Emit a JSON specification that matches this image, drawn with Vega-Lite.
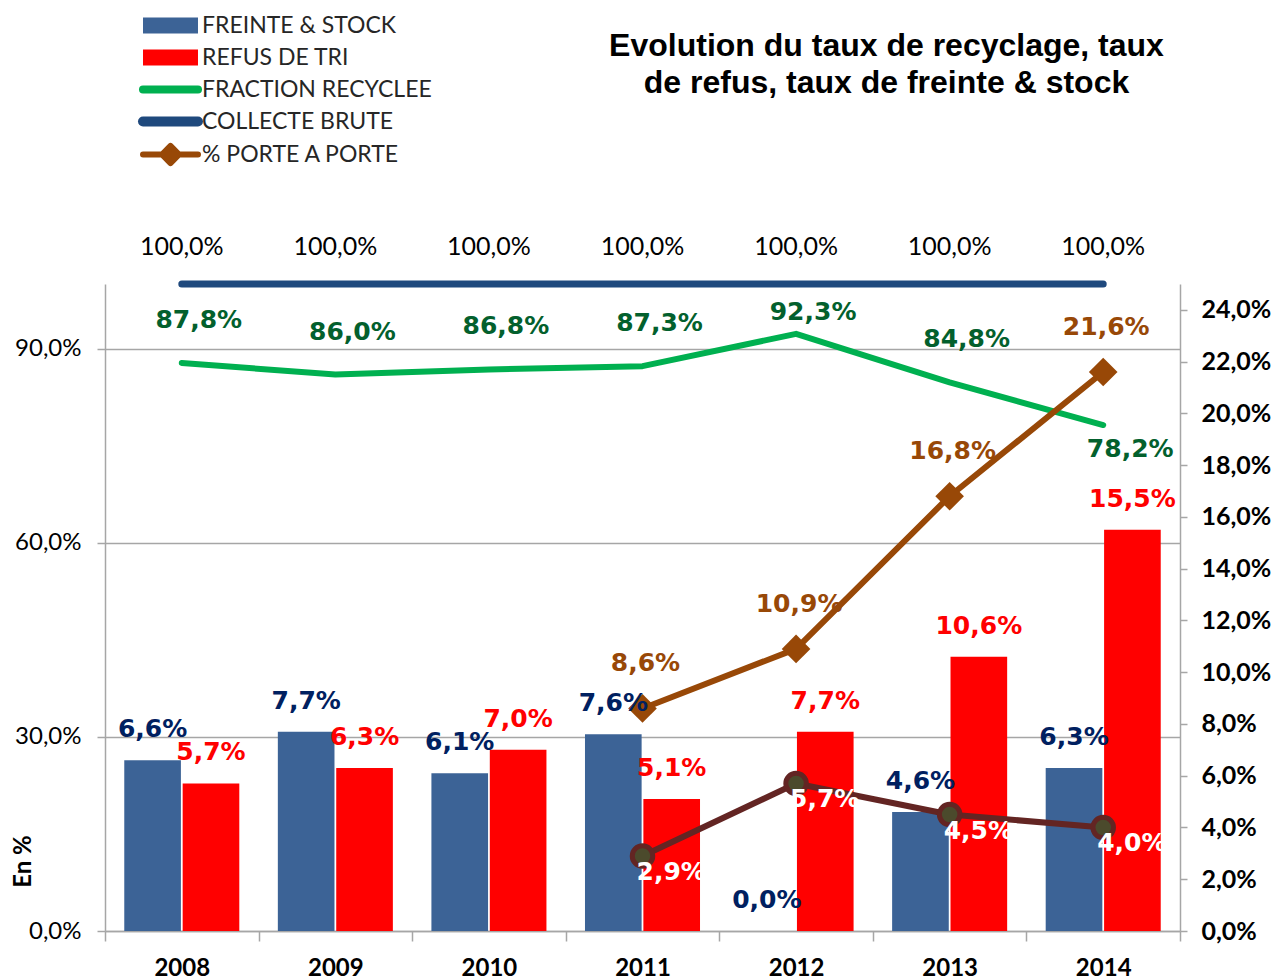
{
  "$schema": "https://vega.github.io/schema/vega-lite/v6.json",
  "width": 1075,
  "height": 647,
  "autosize": {"type": "none"},
  "padding": {"left": 105, "top": 284, "right": 97, "bottom": 46},
  "background": "white",
  "config": {
    "view": {"stroke": null},
    "locale": {"number": {"decimal": ",", "thousands": " ", "grouping": [3], "currency": ["", " €"], "percent": "%"}},
    "axis": {"domainColor": "#A6A6A6", "tickColor": "#A6A6A6", "domainWidth": 1.5, "tickWidth": 1.5}
  },
  "title": {
    "text": ["Evolution du taux de recyclage, taux", "de refus, taux de freinte & stock"],
    "font": "Liberation Sans",
    "fontSize": 32,
    "fontWeight": "bold",
    "color": "black",
    "anchor": "middle",
    "frame": "group",
    "align": "center",
    "lineHeight": 37,
    "offset": 0,
    "dx": 244,
    "dy": 86
  },
  "datasets": {
    "d": [
      {"year": "2008", "serie": "FREINTE & STOCK", "value": 0.066},
      {"year": "2009", "serie": "FREINTE & STOCK", "value": 0.077},
      {"year": "2010", "serie": "FREINTE & STOCK", "value": 0.061},
      {"year": "2011", "serie": "FREINTE & STOCK", "value": 0.076},
      {"year": "2012", "serie": "FREINTE & STOCK", "value": 0.0},
      {"year": "2013", "serie": "FREINTE & STOCK", "value": 0.046},
      {"year": "2014", "serie": "FREINTE & STOCK", "value": 0.063},
      {"year": "2008", "serie": "REFUS DE TRI", "value": 0.057},
      {"year": "2009", "serie": "REFUS DE TRI", "value": 0.063},
      {"year": "2010", "serie": "REFUS DE TRI", "value": 0.070},
      {"year": "2011", "serie": "REFUS DE TRI", "value": 0.051},
      {"year": "2012", "serie": "REFUS DE TRI", "value": 0.077},
      {"year": "2013", "serie": "REFUS DE TRI", "value": 0.106},
      {"year": "2014", "serie": "REFUS DE TRI", "value": 0.155},
      {"year": "2008", "serie": "FRACTION RECYCLEE", "value": 0.878},
      {"year": "2009", "serie": "FRACTION RECYCLEE", "value": 0.860},
      {"year": "2010", "serie": "FRACTION RECYCLEE", "value": 0.868},
      {"year": "2011", "serie": "FRACTION RECYCLEE", "value": 0.873},
      {"year": "2012", "serie": "FRACTION RECYCLEE", "value": 0.923},
      {"year": "2013", "serie": "FRACTION RECYCLEE", "value": 0.848},
      {"year": "2014", "serie": "FRACTION RECYCLEE", "value": 0.782},
      {"year": "2008", "serie": "COLLECTE BRUTE", "value": 1.0},
      {"year": "2009", "serie": "COLLECTE BRUTE", "value": 1.0},
      {"year": "2010", "serie": "COLLECTE BRUTE", "value": 1.0},
      {"year": "2011", "serie": "COLLECTE BRUTE", "value": 1.0},
      {"year": "2012", "serie": "COLLECTE BRUTE", "value": 1.0},
      {"year": "2013", "serie": "COLLECTE BRUTE", "value": 1.0},
      {"year": "2014", "serie": "COLLECTE BRUTE", "value": 1.0},
      {"year": "2011", "serie": "% PORTE A PORTE", "value": 0.086},
      {"year": "2012", "serie": "% PORTE A PORTE", "value": 0.109},
      {"year": "2013", "serie": "% PORTE A PORTE", "value": 0.168},
      {"year": "2014", "serie": "% PORTE A PORTE", "value": 0.216},
      {"year": "2011", "serie": "AUTRE", "value": 0.029},
      {"year": "2012", "serie": "AUTRE", "value": 0.057},
      {"year": "2013", "serie": "AUTRE", "value": 0.045},
      {"year": "2014", "serie": "AUTRE", "value": 0.040}
    ]
  },
  "data": {"name": "d"},
  "encoding": {
    "x": {
      "field": "year",
      "type": "nominal",
      "scale": {"paddingInner": 0, "paddingOuter": 0},
      "axis": {
        "title": null,
        "labelAngle": 0,
        "labelFont": "Lato",
        "labelFontSize": 24,
        "labelFontWeight": "bold",
        "labelColor": "black",
        "tickBand": "extent",
        "tickSize": 10,
        "labelPadding": 15,
        "grid": false
      }
    }
  },
  "layer": [
    {
      "encoding": {
        "y": {
          "field": "value",
          "type": "quantitative",
          "scale": {"domain": [0, 1], "nice": false},
          "axis": {
            "orient": "left",
            "values": [0, 0.3, 0.6, 0.9],
            "format": ".1%",
            "grid": true,
            "gridColor": "#A6A6A6",
            "gridWidth": 1.5,
            "tickSize": 8,
            "labelFont": "Lato",
            "labelFontSize": 24,
            "labelColor": "black",
            "labelPadding": 16,
            "title": "En %",
            "titleFont": "Lato",
            "titleFontSize": 24,
            "titleFontWeight": "bold",
            "titleColor": "black",
            "titleX": -75,
            "titleY": 577,
            "titleAngle": -90,
            "titleAlign": "center",
            "titleBaseline": "alphabetic"
          }
        }
      },
      "layer": [
        {
          "transform": [{"filter": "datum.serie === 'FRACTION RECYCLEE'"}],
          "mark": {"type": "line", "strokeWidth": 6, "strokeCap": "round", "strokeJoin": "round"},
          "encoding": {
            "color": {
              "field": "serie",
              "type": "nominal",
              "scale": {
                "domain": ["FREINTE & STOCK", "REFUS DE TRI", "FRACTION RECYCLEE", "COLLECTE BRUTE", "% PORTE A PORTE"],
                "range": ["#3C6396", "#FF0000", "#00B050", "#1F497D", "#984807"]
              },
              "legend": {
                "title": null,
                "orient": "none",
                "legendX": 54,
                "legendY": -270,
                "padding": 0,
                "rowPadding": 8,
                "symbolSize": 756,
                "labelOffset": 20,
                "labelFont": "Lato",
                "labelFontSize": 23,
                "labelColor": "#262626",
                "labelLimit": 400,
                "encode": {
                  "symbols": {
                    "update": {
                      "shape": {"signal": "datum.value === 'FREINTE & STOCK' || datum.value === 'REFUS DE TRI' ? 'M-2,-0.58H2V0.58H-2Z' : datum.value === '% PORTE A PORTE' ? 'M-2,0H2M0,-0.62L0.62,0L0,0.62L-0.62,0Z' : 'M-2,0H2'"},
                      "fill": {"signal": "datum.value === 'FREINTE & STOCK' ? '#3C6396' : datum.value === 'REFUS DE TRI' ? '#FF0000' : datum.value === '% PORTE A PORTE' ? '#984807' : 'transparent'"},
                      "stroke": {"signal": "datum.value === 'FRACTION RECYCLEE' ? '#00B050' : datum.value === 'COLLECTE BRUTE' ? '#1F497D' : datum.value === '% PORTE A PORTE' ? '#984807' : 'transparent'"},
                      "strokeWidth": {"signal": "datum.value === 'COLLECTE BRUTE' ? 10 : datum.value === 'FRACTION RECYCLEE' ? 8 : datum.value === '% PORTE A PORTE' ? 6 : 0"},
                      "strokeCap": {"value": "round"},
                      "strokeJoin": {"value": "round"},
                      "opacity": {"value": 1},
                      "fillOpacity": {"value": 1},
                      "strokeOpacity": {"value": 1}
                    }
                  }
                }
              }
            }
          }
        },
        {
          "transform": [{"filter": "datum.serie === 'COLLECTE BRUTE'"}],
          "mark": {"type": "line", "strokeWidth": 7, "strokeCap": "round"},
          "encoding": {"color": {"field": "serie", "type": "nominal"}}
        },
        {
          "transform": [{"filter": "datum.serie === 'FRACTION RECYCLEE' && datum.year !== '2012' && datum.year !== '2014'"}],
          "mark": {"type": "text", "font": "DejaVu Sans", "fontSize": 25, "fontWeight": "bold", "color": "#03602D", "dx": 17, "dy": -43, "baseline": "middle"},
          "encoding": {"text": {"field": "value", "type": "quantitative", "format": ".1%"}}
        },
        {
          "transform": [{"filter": "datum.serie === 'FRACTION RECYCLEE' && datum.year === '2012'"}],
          "mark": {"type": "text", "font": "DejaVu Sans", "fontSize": 25, "fontWeight": "bold", "color": "#03602D", "dx": 17, "dy": -22, "baseline": "middle"},
          "encoding": {"text": {"field": "value", "type": "quantitative", "format": ".1%"}}
        },
        {
          "transform": [{"filter": "datum.serie === 'FRACTION RECYCLEE' && datum.year === '2014'"}],
          "mark": {"type": "text", "font": "DejaVu Sans", "fontSize": 25, "fontWeight": "bold", "color": "#03602D", "dx": 27, "dy": 24, "baseline": "middle"},
          "encoding": {"text": {"field": "value", "type": "quantitative", "format": ".1%"}}
        },
        {
          "transform": [{"filter": "datum.serie === 'COLLECTE BRUTE'"}],
          "mark": {"type": "text", "font": "Lato", "fontSize": 25, "color": "black", "dy": -37, "baseline": "middle"},
          "encoding": {"text": {"field": "value", "type": "quantitative", "format": ".1%"}}
        }
      ]
    },
    {
      "encoding": {
        "y": {
          "field": "value",
          "type": "quantitative",
          "scale": {"domain": [0, 0.25], "nice": false},
          "axis": {
            "orient": "right",
            "values": [0, 0.02, 0.04, 0.06, 0.08, 0.1, 0.12, 0.14, 0.16, 0.18, 0.2, 0.22, 0.24],
            "format": ".1%",
            "grid": false,
            "tickSize": 7,
            "labelFont": "Lato",
            "labelFontSize": 25,
            "labelFontWeight": "bold",
            "labelColor": "black",
            "labelPadding": 14,
            "title": null
          }
        }
      },
      "layer": [
        {
          "transform": [{"filter": "datum.serie === 'FREINTE & STOCK' || datum.serie === 'REFUS DE TRI'"}],
          "mark": {"type": "bar"},
          "encoding": {
            "xOffset": {"field": "serie", "type": "nominal", "scale": {"domain": ["FREINTE & STOCK", "REFUS DE TRI"], "paddingInner": 0.03, "paddingOuter": 0.33}},
            "color": {"field": "serie", "type": "nominal"}
          }
        },
        {
          "transform": [{"filter": "datum.serie === '% PORTE A PORTE'"}],
          "mark": {"type": "line", "strokeWidth": 6, "strokeCap": "round", "strokeJoin": "round"},
          "encoding": {"color": {"field": "serie", "type": "nominal"}}
        },
        {
          "transform": [{"filter": "datum.serie === '% PORTE A PORTE'"}],
          "mark": {"type": "point", "shape": "diamond", "size": 820, "filled": true, "color": "#984807", "strokeWidth": 3, "strokeJoin": "round", "opacity": 1},
          "encoding": {}
        },
        {
          "transform": [{"filter": "datum.serie === 'AUTRE'"}],
          "mark": {"type": "line", "strokeWidth": 6, "color": "#632523", "strokeCap": "round", "strokeJoin": "round"},
          "encoding": {}
        },
        {
          "transform": [{"filter": "datum.serie === 'AUTRE'"}],
          "mark": {"type": "point", "shape": "circle", "size": 420, "filled": true, "color": "#4B4A2C", "stroke": "#632523", "strokeWidth": 5, "opacity": 1},
          "encoding": {}
        },
        {
          "transform": [{"filter": "datum.serie === 'FREINTE & STOCK'"}],
          "mark": {"type": "text", "font": "DejaVu Sans", "fontSize": 25, "fontWeight": "bold", "color": "#002060", "dy": -31, "baseline": "middle"},
          "encoding": {
            "xOffset": {"field": "serie", "type": "nominal"},
            "text": {"field": "value", "type": "quantitative", "format": ".1%"}
          }
        },
        {
          "transform": [{"filter": "datum.serie === 'REFUS DE TRI'"}],
          "mark": {"type": "text", "font": "DejaVu Sans", "fontSize": 25, "fontWeight": "bold", "color": "#FF0000", "dy": -31, "baseline": "middle"},
          "encoding": {
            "xOffset": {"field": "serie", "type": "nominal"},
            "text": {"field": "value", "type": "quantitative", "format": ".1%"}
          }
        },
        {
          "transform": [{"filter": "datum.serie === '% PORTE A PORTE'"}],
          "mark": {"type": "text", "font": "DejaVu Sans", "fontSize": 25, "fontWeight": "bold", "color": "#984807", "dx": 3, "dy": -45, "baseline": "middle"},
          "encoding": {"text": {"field": "value", "type": "quantitative", "format": ".1%"}}
        },
        {
          "transform": [{"filter": "datum.serie === 'AUTRE'"}],
          "mark": {"type": "text", "font": "DejaVu Sans", "fontSize": 25, "fontWeight": "bold", "color": "#FFFFFF", "align": "left", "dx": -6, "dy": 16, "baseline": "middle"},
          "encoding": {"text": {"field": "value", "type": "quantitative", "format": ".1%"}}
        }
      ]
    }
  ],
  "resolve": {"scale": {"y": "independent"}}
}
